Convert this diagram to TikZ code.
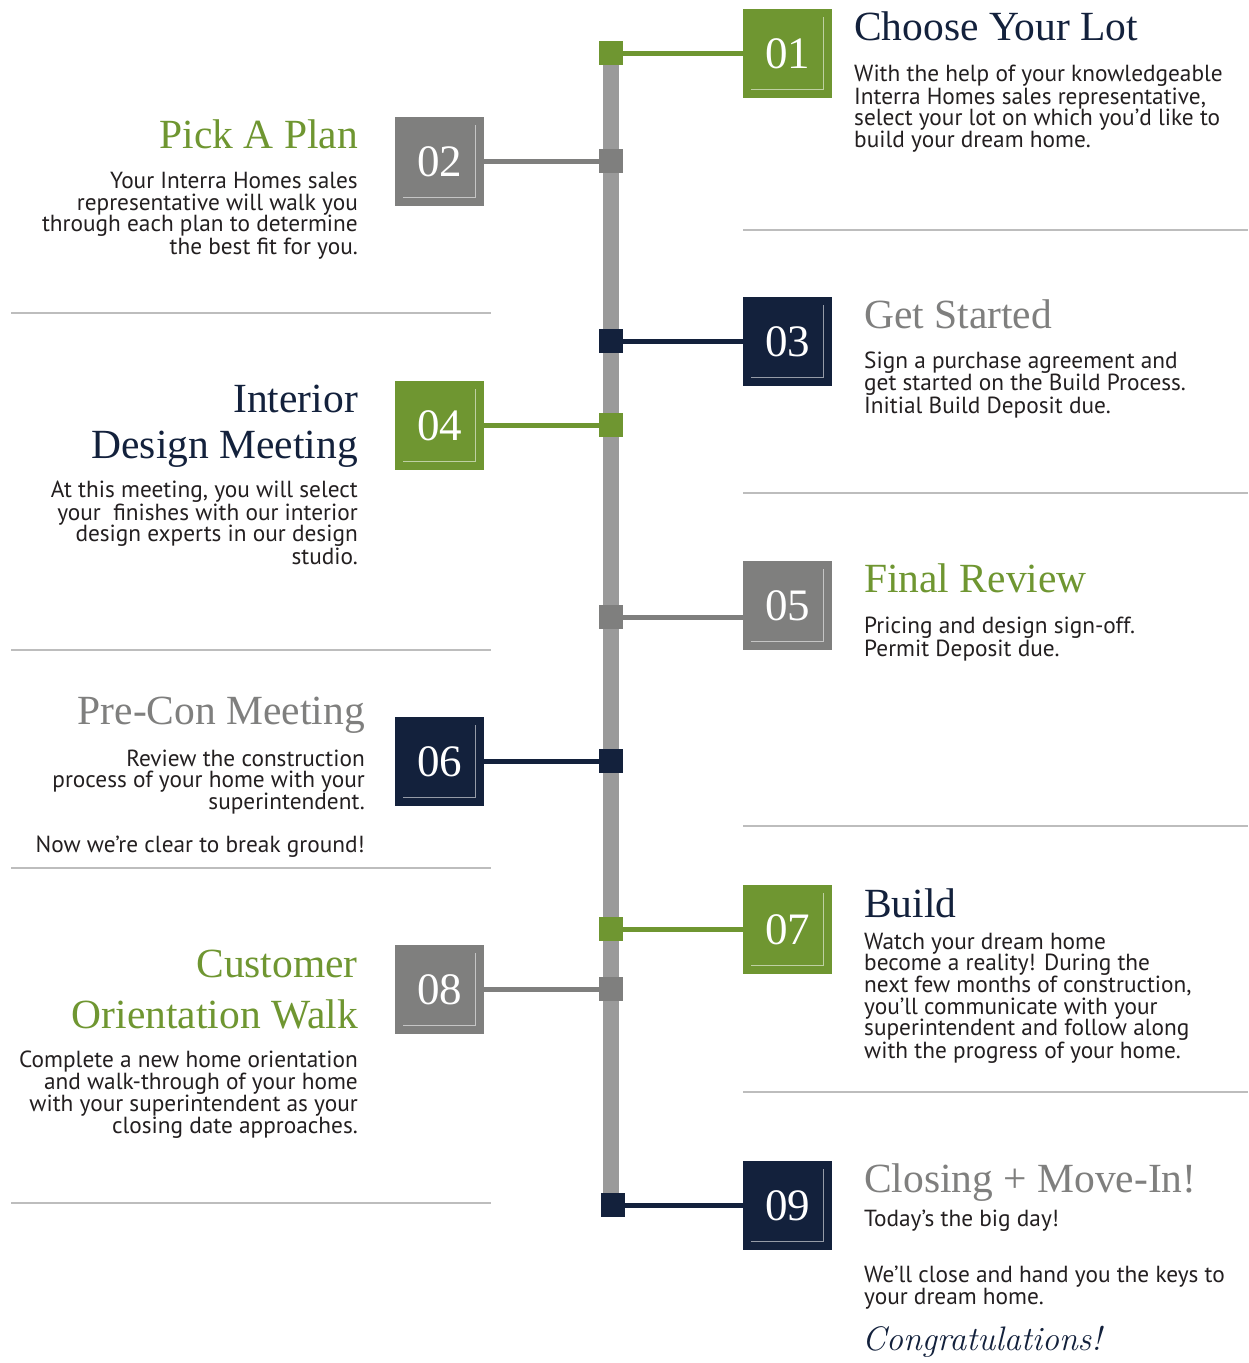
\documentclass[tikz,border=0pt]{standalone}
\usepackage{fontspec}
\newfontfamily\bodyfont{PT Sans}
\newfontfamily\headfont{Liberation Serif}
\usetikzlibrary{backgrounds}
\definecolor{igreen}{HTML}{6F9631}
\definecolor{inavy}{HTML}{13213C}
\definecolor{igray}{HTML}{7F7F7E}
\definecolor{bargray}{HTML}{9A9A9A}
\definecolor{sepgray}{HTML}{BDBDBD}
\definecolor{bodyblack}{HTML}{231F20}
\tikzset{
 numbox/.style={fill=#1, minimum size=89pt, inner sep=0pt, text=white,
   font=\headfont\fontsize{45}{45}\selectfont,
   path picture={\draw[#1!45!white, line width=0.9pt]
     ([xshift=-9pt,yshift=-8pt]path picture bounding box.north east) --
     ([xshift=-9pt,yshift=9pt]path picture bounding box.south east) --
     ([xshift=8pt,yshift=9pt]path picture bounding box.south west);}},
 dot/.style={fill=#1, minimum size=24pt, inner sep=0pt},
 link/.style={draw=#1, line width=5pt},
 sep/.style={draw=sepgray, line width=1.3pt},
 title/.style={font=\headfont\fontsize{41.5}{46}\selectfont, inner sep=0pt},
 body/.style={font=\bodyfont\fontsize{23.3}{21.3}\selectfont, text=bodyblack, inner sep=0pt},
}
\begin{document}
\begin{tikzpicture}[x=1pt,y=-1pt]
\useasboundingbox (0,0) rectangle (1248,1363);
% squares on the bar
\node[dot=igreen] (s1) at (611,53) {};
\node[dot=igray]  (s2) at (611,161) {};
\node[dot=inavy]  (s3) at (611,341) {};
\node[dot=igreen] (s4) at (611,425) {};
\node[dot=igray]  (s5) at (611,617) {};
\node[dot=inavy]  (s6) at (611,761) {};
\node[dot=igreen] (s7) at (611,929) {};
\node[dot=igray]  (s8) at (611,989) {};
\node[dot=inavy]  (s9) at (613,1205) {};
\begin{pgfonlayer}{background}
\fill[white] (0,0) rectangle (1248,1363);
\draw[bargray, line width=16pt] (s1.center) -- (s1 |- s9.center);
\end{pgfonlayer}
% number boxes
\node[numbox=igreen] (b1) at (787.5,53.5) {01};
\node[numbox=igray]  (b2) at (439.5,161.5) {02};
\node[numbox=inavy]  (b3) at (787.5,341.5) {03};
\node[numbox=igreen] (b4) at (439.5,425.5) {04};
\node[numbox=igray]  (b5) at (787.5,605.5) {05};
\node[numbox=inavy]  (b6) at (439.5,761.5) {06};
\node[numbox=igreen] (b7) at (787.5,929.5) {07};
\node[numbox=igray]  (b8) at (439.5,989.5) {08};
\node[numbox=inavy]  (b9) at (787.5,1205.5) {09};
% connectors
\draw[link=igreen] (s1) -- (s1 -| b1.west);
\draw[link=igray]  (s2) -- (s2 -| b2.east);
\draw[link=inavy]  (s3) -- (s3 -| b3.west);
\draw[link=igreen] (s4) -- (s4 -| b4.east);
\draw[link=igray]  (s5) -- (s5 -| b5.west);
\draw[link=inavy]  (s6) -- (s6 -| b6.east);
\draw[link=igreen] (s7) -- (s7 -| b7.west);
\draw[link=igray]  (s8) -- (s8 -| b8.east);
\draw[link=inavy]  (s9) -- (s9 -| b9.west);
% separators
\draw[sep] (743,230) -- (1248,230);
\draw[sep] (743,493) -- (1248,493);
\draw[sep] (743,826) -- (1248,826);
\draw[sep] (743,1092) -- (1248,1092);
\draw[sep] (11,313) -- (491,313);
\draw[sep] (11,650) -- (491,650);
\draw[sep] (11,868) -- (491,868);
\draw[sep] (11,1203) -- (491,1203);
% step 01
\node[title, text=inavy, anchor=base west] (t1) at (854,40) {Choose Your Lot};
\node[body, anchor=base west, align=left] (d1) at (854,147) {With the help of your knowledgeable\\Interra Homes sales representative,\\select your lot on which you’d like to\\build your dream home.};
% step 02
\node[title, text=igreen, anchor=base east] (t2) at (358,148) {Pick A Plan};
\node[body, anchor=base east, align=right] (d2) at (358,254) {Your Interra Homes sales\\representative will walk you\\through each plan to determine\\the best fit for you.};
% step 03
\node[title, text=igray, anchor=base west] (t3) at (864,328) {Get Started};
\node[body, anchor=base west, align=left] (d3) at (864,413) {Sign a purchase agreement and\\get started on the Build Process.\\Initial Build Deposit due.};
% step 04
\node[title, text=inavy, anchor=base east] (t4a) at (358,412) {Interior};
\node[title, text=inavy, anchor=base east] (t4b) at (358,458) {Design Meeting};
\node[body, anchor=base east, align=right] (d4) at (358,564) {At this meeting, you will select\\your\ \ finishes with our interior\\design experts in our design\\studio.};
% step 05
\node[title, text=igreen, anchor=base west] (t5) at (864,592) {Final Review};
\node[body, anchor=base west, align=left] (d5) at (864,656) {Pricing and design sign-off.\\Permit Deposit due.};
% step 06
\node[title, text=igray, anchor=base east] (t6) at (365,724) {Pre-Con Meeting};
\node[body, anchor=base east, align=right] (d6) at (365,809) {Review the construction\\process of your home with your\\superintendent.};
\node[body, anchor=base east] (e6) at (365,852) {Now we’re clear to break ground!};
% step 07
\node[title, text=inavy, anchor=base west] (t7) at (864,917) {Build};
\node[body, anchor=base west, align=left] (d7) at (864,1058) {Watch your dream home\\become a reality! During the\\next few months of construction,\\you’ll communicate with your\\superintendent and follow along\\with the progress of your home.};
% step 08
\node[title, text=igreen, anchor=base east] (t8a) at (358,977) {Customer};
\node[title, text=igreen, anchor=base east] (t8b) at (358,1028) {Orientation Walk};
\node[body, anchor=base east, align=right] (d8) at (358,1133) {Complete a new home orientation\\and walk-through of your home\\with your superintendent as your\\closing date approaches.};
% step 09
\node[title, text=igray, anchor=base west] (t9) at (864,1192) {Closing + Move-In!};
\node[body, anchor=base west] (d9) at (864,1226) {Today’s the big day!};
\node[body, anchor=base west, align=left] (e9) at (864,1304) {We’ll close and hand you the keys to\\your dream home.};
\node[font=\itshape\fontsize{34}{34}\selectfont, text=inavy, anchor=base west, inner sep=0pt] (c9) at (862,1350) {Congratulations!};
\end{tikzpicture}
\end{document}
